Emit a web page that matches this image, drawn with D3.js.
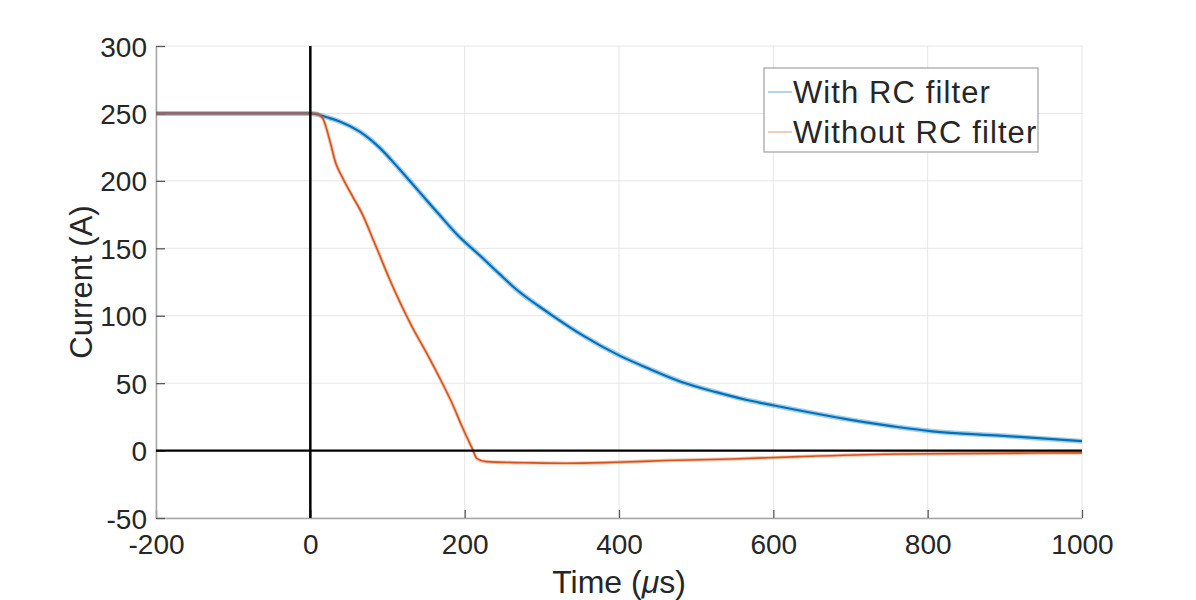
<!DOCTYPE html>
<html>
<head>
<meta charset="utf-8">
<script src="https://cdn.jsdelivr.net/npm/d3@7"></script>
<style>
  body { margin: 0; background: #fff; }
  text { font-family: "Liberation Sans", Arial, Helvetica, sans-serif; fill: #262626; }
</style>
</head>
<body>
<svg id="drawing_region"></svg>
<script>
// time (us) and current (A)
const seriesNames = ['With RC filter', 'Without RC filter'];
const withRcTime = [-200, 0, 25, 38, 64, 89, 115, 141, 167, 193, 219, 245, 266, 310, 353, 400, 439, 482, 526, 569, 601, 634, 700, 763, 806, 893, 1000];
const withRcCurrent = [250, 250, 246.5, 244, 236.5, 225, 209, 192, 175, 158.5, 145, 131, 120, 101.6, 85.4, 70.6, 60.7, 50.7, 43.3, 37.1, 33.4, 29.7, 22.8, 17.3, 14.3, 11.1, 7];
const withoutRcTime = [-200, 0, 7, 16, 25, 33, 42, 55, 68, 81, 89, 102, 115, 132, 150, 167, 184, 197, 210, 216, 228, 288, 331, 396, 461, 547, 633, 763, 1000];
const withoutRcCurrent = [250, 250, 250, 246.4, 230.3, 213, 202, 188.2, 174.6, 157, 146, 128, 111.4, 91.6, 73, 54.5, 34.7, 17.3, 1.3, -6, -8.2, -9.1, -9.4, -8.7, -7.4, -6.2, -4.5, -2.5, -1.7];
const xTicks = [-200, 0, 200, 400, 600, 800, 1000];
const yTicks = [-50, 0, 50, 100, 150, 200, 250, 300];
const colors = ['#0072BD', '#D95319'];

const config = {
    width: 1196,
    height: 600,
    margin: {top: 46, right: 114, bottom: 82, left: 156}
};

const svg = d3.select('#drawing_region')
    .attr('width', config.width)
    .attr('height', config.height);

const inner_width = config.width - config.margin.left - config.margin.right;
const inner_height = config.height - config.margin.top - config.margin.bottom;

const chart = svg.append('g')
    .attr('transform', `translate(${config.margin.left}, ${config.margin.top})`);

const xscale = d3.scaleLinear().domain([-200, 1000]).range([0, inner_width]);
const yscale = d3.scaleLinear().domain([-50, 300]).range([inner_height, 0]);

// grid
chart.append('g').selectAll('line')
    .data(xTicks).enter().append('line')
    .attr('x1', d => xscale(d)).attr('x2', d => xscale(d))
    .attr('y1', 0).attr('y2', inner_height)
    .attr('stroke', '#e6e6e6').attr('stroke-width', 1);
chart.append('g').selectAll('line')
    .data(yTicks).enter().append('line')
    .attr('x1', 0).attr('x2', inner_width)
    .attr('y1', d => yscale(d)).attr('y2', d => yscale(d))
    .attr('stroke', '#e6e6e6').attr('stroke-width', 1);

// axes (left + bottom only, ticks pointing in)
const plain = d => String(d);
const xaxis = d3.axisBottom(xscale).tickValues(xTicks).tickFormat(plain)
    .tickSize(-8).tickPadding(16).tickSizeOuter(0);
const yaxis = d3.axisLeft(yscale).tickValues(yTicks).tickFormat(plain)
    .tickSize(-9).tickPadding(9).tickSizeOuter(0);

const xaxis_group = chart.append('g')
    .attr('transform', `translate(0, ${inner_height})`)
    .call(xaxis);
const yaxis_group = chart.append('g').call(yaxis);

[xaxis_group, yaxis_group].forEach(g => {
    g.select('.domain').attr('stroke', '#a6a6a6').attr('stroke-width', 1.5);
    g.selectAll('.tick line').attr('stroke', '#5a5a5a').attr('stroke-width', 1.3);
    g.selectAll('.tick text').style('font-size', '28px').attr('fill', '#262626');
});
yaxis_group.selectAll('.tick text').attr('dy', '0.36em');
xaxis_group.selectAll('.tick text').attr('dy', '0.7em');

// traces
const line = d3.line()
    .x(d => xscale(d[0]))
    .y(d => yscale(d[1]))
    .curve(d3.curveMonotoneX);
const traces = [
    d3.zip(withRcTime, withRcCurrent),
    d3.zip(withoutRcTime, withoutRcCurrent)
];
const widths = [[5, 2.2], [3.5, 1.6]];
traces.forEach((pts, i) => {
    // faint wider band hints at the scope noise
    chart.append('path').datum(pts)
        .attr('d', line).attr('fill', 'none')
        .attr('stroke', colors[i]).attr('stroke-opacity', 0.35)
        .attr('stroke-width', widths[i][0]).attr('stroke-linejoin', 'round');
    chart.append('path').datum(pts)
        .attr('d', line).attr('fill', 'none')
        .attr('stroke', colors[i])
        .attr('stroke-width', widths[i][1]).attr('stroke-linejoin', 'round');
});

// zero reference lines
chart.append('line')
    .attr('x1', xscale(-200)).attr('x2', xscale(1000))
    .attr('y1', yscale(0)).attr('y2', yscale(0))
    .attr('stroke', '#000').attr('stroke-width', 2.2);
chart.append('line')
    .attr('x1', xscale(0)).attr('x2', xscale(0))
    .attr('y1', yscale(-50)).attr('y2', yscale(300))
    .attr('stroke', '#000').attr('stroke-width', 2.5);

// axis labels
svg.append('text')
    .attr('x', config.margin.left + inner_width / 2)
    .attr('y', 593)
    .attr('text-anchor', 'middle')
    .style('font-size', '32px')
    .html('Time (<tspan font-style="italic">&#956;</tspan>s)');
svg.append('text')
    .attr('transform', `translate(92, ${config.margin.top + inner_height / 2}) rotate(-90)`)
    .attr('text-anchor', 'middle')
    .style('font-size', '31px')
    .text('Current (A)');

// legend
const legend = svg.append('g').attr('transform', 'translate(764, 68)');
legend.append('rect')
    .attr('width', 274).attr('height', 84)
    .attr('fill', '#fff').attr('stroke', '#a0a0a0').attr('stroke-width', 1.2);
seriesNames.forEach((name, i) => {
    const y = 24 + i * 40;
    legend.append('line')
        .attr('x1', 4).attr('x2', 28).attr('y1', y).attr('y2', y)
        .attr('stroke', colors[i]).attr('stroke-opacity', 0.6).attr('stroke-width', 1);
    legend.append('text')
        .attr('x', 29).attr('y', y).attr('dy', '0.36em')
        .style('font-size', '31px')
        .style('letter-spacing', '1.1px')
        .attr('fill', '#000')
        .text(name);
});
</script>
</body>
</html>
